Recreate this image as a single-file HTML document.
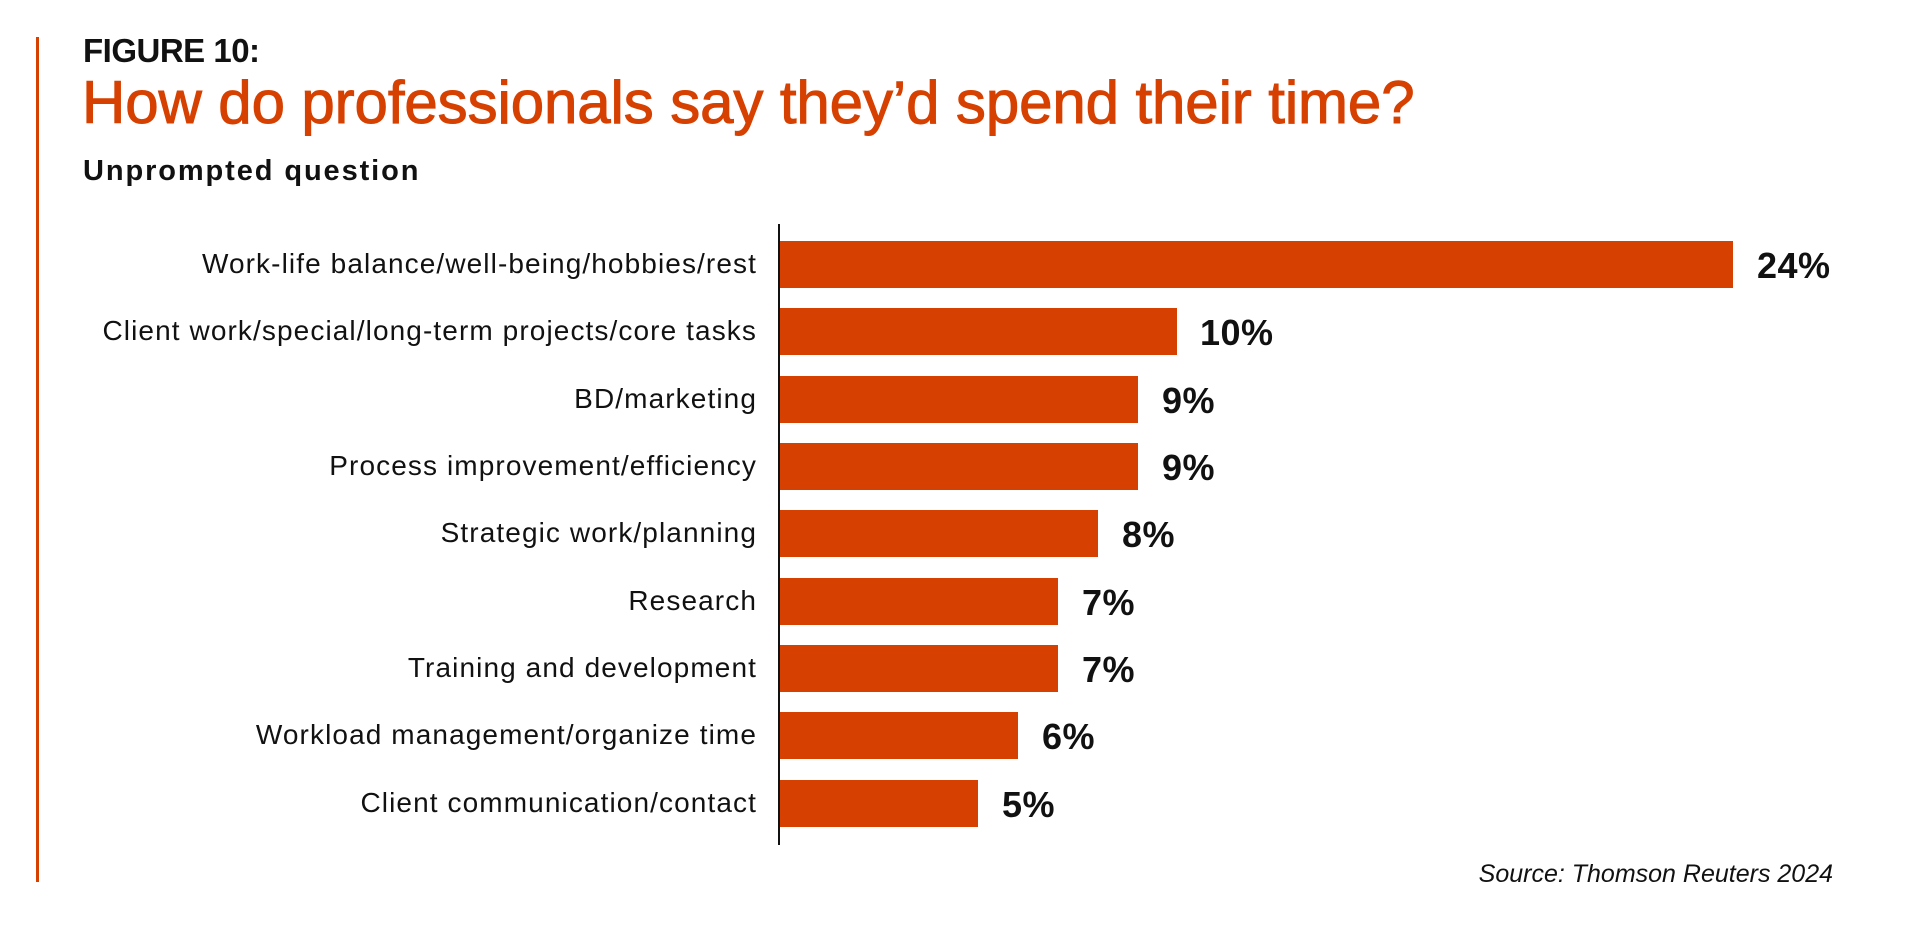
<!DOCTYPE html>
<html><head><meta charset="utf-8"><style>
html,body{margin:0;padding:0;background:#fff;}
body{width:1920px;height:935px;position:relative;overflow:hidden;font-family:"Liberation Sans",sans-serif;color:#111;}
.a{position:absolute;white-space:nowrap;}
.bar{position:absolute;left:780px;height:47px;background:#d64000;}
.lab{position:absolute;right:1163px;font-size:28px;letter-spacing:1.1px;line-height:30px;color:#111;}
.val{position:absolute;font-size:36px;font-weight:bold;line-height:36px;color:#111;letter-spacing:0.5px;}
</style></head><body>
<div class="a" style="left:36px;top:37px;width:3px;height:845px;background:#d64000"></div>
<div class="a" style="left:83px;top:32px;font-size:33px;font-weight:bold;letter-spacing:-0.5px;">FIGURE 10:</div>
<div class="a" style="left:82px;top:68px;font-size:60px;color:#d64000;letter-spacing:-0.1px;-webkit-text-stroke:1px #d64000;">How do professionals say they’d spend their time?</div>
<div class="a" style="left:83px;top:155px;font-size:29px;font-weight:bold;letter-spacing:1.9px;">Unprompted question</div>
<div class="a" style="left:778px;top:224px;width:2px;height:621px;background:#111"></div>

<div class="bar" style="top:241px;width:953px"></div>
<div class="bar" style="top:308px;width:397px"></div>
<div class="bar" style="top:376px;width:358px"></div>
<div class="bar" style="top:443px;width:358px"></div>
<div class="bar" style="top:510px;width:318px"></div>
<div class="bar" style="top:578px;width:278px"></div>
<div class="bar" style="top:645px;width:278px"></div>
<div class="bar" style="top:712px;width:238px"></div>
<div class="bar" style="top:780px;width:198px"></div>

<div class="lab" style="top:249px">Work-life balance/well-being/hobbies/rest</div>
<div class="lab" style="top:316px">Client work/special/long-term projects/core tasks</div>
<div class="lab" style="top:384px">BD/marketing</div>
<div class="lab" style="top:451px">Process improvement/efficiency</div>
<div class="lab" style="top:518px">Strategic work/planning</div>
<div class="lab" style="top:586px">Research</div>
<div class="lab" style="top:653px">Training and development</div>
<div class="lab" style="top:720px">Workload management/organize time</div>
<div class="lab" style="top:788px">Client communication/contact</div>

<div class="val" style="left:1757px;top:248px">24%</div>
<div class="val" style="left:1200px;top:315px">10%</div>
<div class="val" style="left:1162px;top:383px">9%</div>
<div class="val" style="left:1162px;top:450px">9%</div>
<div class="val" style="left:1122px;top:517px">8%</div>
<div class="val" style="left:1082px;top:585px">7%</div>
<div class="val" style="left:1082px;top:652px">7%</div>
<div class="val" style="left:1042px;top:719px">6%</div>
<div class="val" style="left:1002px;top:787px">5%</div>

<div class="a" style="right:87px;top:860px;font-size:25px;font-style:italic;">Source: Thomson Reuters 2024</div>
</body></html>
